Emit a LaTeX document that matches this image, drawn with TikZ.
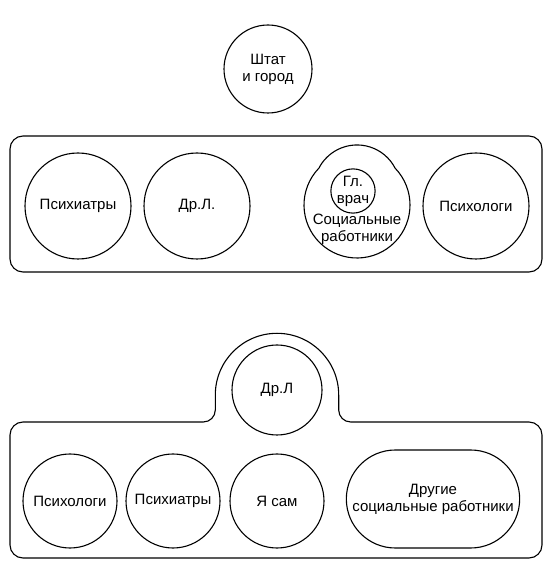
\documentclass[tikz,border=0pt]{standalone}
\usepackage{fontspec}
\setmainfont{Liberation Sans}
\usetikzlibrary{shapes.misc}

\begin{document}
\begin{tikzpicture}[x=1pt, y=1pt, line width=1.1pt]
  \useasboundingbox (0,0) rectangle (550,566);
  \begin{scope}[every node/.style = {font=\fontsize{15}{17}\selectfont, align=center}]
    \node[anchor=center, circle, draw, minimum size=88pt, inner sep=0pt] (state) at (268,497) {Штат\\и город};
    % upper panel
    \draw[rounded corners=13pt] (10,294) rectangle (542,430);
    \foreach \n/\x/\txt in {psy/78/Психиатры, drl/197/Др.Л., log/476/Психологи}{
      \node[anchor=center, circle, draw, minimum size=106pt, inner sep=0pt] (U\n) at (\x,360) {\txt};
    }
    \draw (357,361) ++(136:53) arc[start angle=136, end angle=404, radius=53]
      arc[start angle=27.3, end angle=152.7, radius=42.9] -- cycle;
    \node[anchor=center, circle, draw, minimum size=42pt, inner sep=0pt] (chief) at (353,375) {Гл.\\врач};
    \node[anchor=center] (soc) at (357,337) {Социальные\\работники};
    % lower panel
    \draw (10,131) -- (10,21) arc[start angle=180, end angle=270, radius=13]
      -- (529,8) arc[start angle=270, end angle=360, radius=13]
      -- (542,131) arc[start angle=0, end angle=90, radius=13]
      -- (350.7,144) arc[start angle=270, end angle=180, radius=12]
      -- (338.7,171) arc[start angle=0, end angle=180, radius=61.7]
      -- (215.3,156) arc[start angle=0, end angle=-90, radius=12]
      -- (23,144) arc[start angle=90, end angle=180, radius=13] -- cycle;
    \node[anchor=center, circle, draw, minimum size=90pt, inner sep=0pt] (Ldrl) at (277,176) {Др.Л};
    \foreach \n/\x/\txt in {log/70/Психологи, psy/173/Психиатры, me/277/Я сам}{
      \node[anchor=center, circle, draw, minimum size=94pt, inner sep=0pt] (L\n) at (\x,65) {\txt};
    }
    \node[anchor=center, rounded rectangle, draw, minimum width=180pt, minimum height=98pt] (Lother) at (433,67) {Другие\\социальные работники};
  \end{scope}
\end{tikzpicture}
\end{document}
